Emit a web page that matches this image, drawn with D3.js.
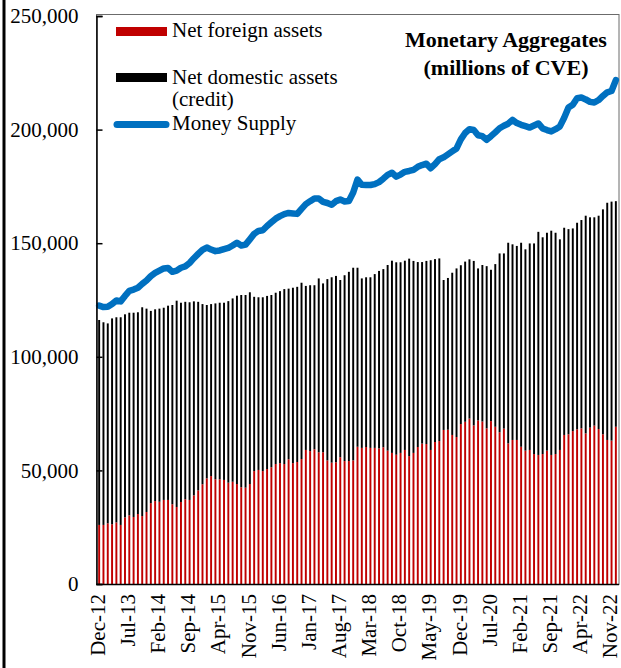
<!DOCTYPE html>
<meta charset="utf-8">
<style>
  body { margin: 0; background: #fff; }
  svg text { font-family: "Liberation Serif", "Times New Roman", Times, serif; fill: #000; }
</style>
<body>
<div id="chart"></div>
<script src="https://d3js.org/d3.v7.min.js"></script>
<script>
// monthly data, Dec-12 .. Dec-22 (millions of CVE)
var startMonth = new Date(2012, 11, 1);
var endMonth = new Date(2023, 0, 1);

var tickLabels = ["Dec-12", "Jul-13", "Feb-14", "Sep-14", "Apr-15", "Nov-15", "Jun-16", "Jan-17", "Aug-17",
  "Mar-18", "Oct-18", "May-19", "Dec-19", "Jul-20", "Feb-21", "Sep-21", "Apr-22", "Nov-22"];

var netForeign = [
  26000, 26000, 26700, 26300, 27100, 26000, 29300, 30200, 29500, 30800,
  29900, 31700, 35600, 36500, 36200, 37000, 37000, 35100, 33900, 36100,
  37300, 37000, 39000, 41200, 43900, 46500, 47500, 46100, 46100, 45800,
  44600, 45000, 44000, 42600, 42400, 44000, 49700, 50200, 49700, 50600,
  51400, 52800, 53200, 52800, 54900, 53200, 53700, 55000, 59000, 58500,
  59300, 58000, 58000, 54400, 53400, 53600, 55800, 54100, 54100, 54400,
  60400, 59900, 60300, 59900, 59900, 59700, 60200, 58700, 57700, 56900,
  57700, 59000, 56300, 57700, 60300, 61800, 61600, 59000, 62500, 62900,
  67800, 67900, 65600, 64700, 70400, 71400, 72800, 69800, 72000, 71500,
  68500, 71700, 69200, 66800, 68400, 61900, 63400, 63400, 60400, 58700,
  59000, 57200, 56800, 57200, 58700, 56800, 57200, 59000, 65600, 65900,
  67300, 68100, 68500, 66300, 68800, 69700, 68200, 65900, 63400, 63100,
  69200
];

var netDomestic = [
  90200, 89200, 88000, 90600, 90300, 91400, 89400, 89200, 89900, 88800,
  91900, 89500, 84600, 84400, 85000, 84600, 85500, 87700, 90800, 87700,
  86900, 87000, 85400, 83000, 79300, 76300, 75700, 77400, 77700, 78000,
  79900, 80700, 82900, 84600, 84800, 84400, 76700, 76000, 76500, 76200,
  75800, 75400, 75700, 77000, 75100, 77200, 77100, 77600, 72200, 73000,
  72200, 76500, 74300, 79800, 81600, 82000, 78000, 81800, 83300, 84800,
  78800, 74600, 74700, 75100, 76500, 78100, 78400, 81700, 84600, 84700,
  83900, 83300, 86900, 84500, 81400, 79900, 80600, 83500, 80500, 80400,
  66000, 66800, 71400, 74200, 69900, 70500, 70100, 72400, 66900, 68900,
  71400, 66600, 71600, 78700, 77100, 88300, 86100, 85400, 89800, 88600,
  90900, 92700, 98200, 95400, 95900, 98700, 97400, 92700, 91200, 90300,
  89200, 90900, 91700, 95800, 92600, 91700, 93900, 99000, 104400, 105200,
  99300
];

var moneySupply = [
  122500, 121900, 122000, 123200, 124800, 124400, 126800, 129000, 129600, 130400,
  132100, 133600, 135500, 136900, 137900, 138900, 139100, 137400, 137900, 139200,
  139800, 141300, 143400, 145300, 147100, 148100, 147200, 146500, 146800, 147400,
  147900, 149000, 150200, 149000, 149400, 151700, 154100, 155400, 155700, 157600,
  159200, 160800, 161900, 162800, 163300, 163100, 162900, 165100, 167200, 168500,
  169700, 169700, 168200, 167700, 166900, 168500, 169200, 168400, 168600, 172300,
  178000, 175700, 175600, 175600, 176000, 176900, 178400, 180100, 181000, 179300,
  180200, 181400, 181800, 182300, 183600, 184400, 185000, 183000, 184800, 187000,
  187800, 189100, 190400, 191700, 195700, 198500, 200200, 199800, 197500, 197100,
  195500, 197100, 198800, 200600, 201700, 202600, 204300, 202900, 202100, 201500,
  200900, 201800, 202700, 200500, 199800, 199200, 200200, 201400, 205200, 209700,
  210900, 213800, 214100, 213300, 212200, 211900, 213000, 214800, 216400, 217000,
  221800
];

var yTicks = [0, 50000, 100000, 150000, 200000, 250000];

var width = 621, height = 668;
var plotLeft = 97, plotRight = 618, plotTop = 16, plotBottom = 584;
var serif = "Liberation Serif, Times New Roman, Times, serif";

var months = d3.timeMonth.range(startMonth, endMonth);
var fmt = d3.timeFormat("%b-%y");
var rows = months.map(function(m, i) {
  return { label: fmt(m), nfa: netForeign[i], nda: netDomestic[i], m2: moneySupply[i] };
});

var svg = d3.select("#chart").append("svg")
  .attr("width", width)
  .attr("height", height)
  .attr("font-family", serif);

var x = d3.scaleBand()
  .domain(rows.map(function(d) { return d.label; }))
  .range([plotLeft, plotRight])
  .paddingInner(0.55)
  .paddingOuter(0.275);

var y = d3.scaleLinear().domain([0, 250000]).range([plotBottom, plotTop]);

// outer frame line on the left
svg.append("line")
  .attr("x1", 4).attr("x2", 4).attr("y1", 0).attr("y2", height)
  .attr("stroke", "#000").attr("stroke-width", 3);

// plot area border
svg.append("rect")
  .attr("x", plotLeft - 0.5).attr("y", plotTop - 1.5)
  .attr("width", plotRight - plotLeft + 1.5).attr("height", plotBottom - plotTop + 2)
  .attr("fill", "none").attr("stroke", "#6b6b6b").attr("stroke-width", 1);

// stacked bars
var stack = d3.stack().keys(["nfa", "nda"]);
var series = stack(rows);
var barColor = { nfa: "#c00000", nda: "#000000" };

svg.append("g").selectAll("g")
  .data(series)
  .join("g")
  .attr("fill", function(s) { return barColor[s.key]; })
  .selectAll("rect")
  .data(function(s) { return s; })
  .join("rect")
  .attr("x", function(d) { return x(d.data.label); })
  .attr("width", x.bandwidth())
  .attr("y", function(d) { return y(d[1]); })
  .attr("height", function(d) { return y(d[0]) - y(d[1]); });

// money supply line
var line = d3.line()
  .x(function(d) { return x(d.label) + x.bandwidth() / 2; })
  .y(function(d) { return y(d.m2); });

svg.append("path")
  .datum(rows)
  .attr("d", line)
  .attr("fill", "none")
  .attr("stroke", "#0070c0")
  .attr("stroke-width", 6.5)
  .attr("stroke-linejoin", "round")
  .attr("stroke-linecap", "round");

// y axis
var yAxis = svg.append("g")
  .attr("transform", "translate(" + (plotLeft - 0.5) + ",0)")
  .call(d3.axisLeft(y).tickValues(yTicks).tickFormat(d3.format(",")).tickSize(-6).tickPadding(18));
yAxis.attr("font-family", serif).attr("font-size", 21);
yAxis.select(".domain").attr("stroke", "#000").attr("stroke-width", 1.5);
yAxis.selectAll(".tick line").attr("stroke", "#000").attr("stroke-width", 1.5);

// x axis line
svg.append("line")
  .attr("x1", plotLeft - 0.5).attr("x2", plotRight + 1)
  .attr("y1", plotBottom + 0.5).attr("y2", plotBottom + 0.5)
  .attr("stroke", "#000").attr("stroke-width", 1.5);

// x tick labels (every 7 months)
svg.append("g").selectAll("text")
  .data(tickLabels)
  .join("text")
  .attr("transform", function(d) {
    return "translate(" + (x(d) + x.bandwidth() / 2) + "," + (plotBottom + 10) + ") rotate(-90)";
  })
  .attr("text-anchor", "end")
  .attr("dy", "0.27em")
  .attr("font-size", 21)
  .text(function(d) { return d; });

// legend
var legend = svg.append("g");
legend.append("rect").attr("x", 116).attr("y", 27).attr("width", 51).attr("height", 9).attr("fill", "#c00000");
legend.append("rect").attr("x", 116).attr("y", 73).attr("width", 51).attr("height", 9).attr("fill", "#000");
legend.append("line").attr("x1", 117).attr("x2", 166).attr("y1", 124.5).attr("y2", 124.5)
  .attr("stroke", "#0070c0").attr("stroke-width", 7).attr("stroke-linecap", "round");

var legendText = [
  { t: "Net foreign assets", y: 37 },
  { t: "Net domestic assets", y: 84 },
  { t: "(credit)", y: 106 },
  { t: "Money Supply", y: 130 }
];
legend.selectAll("text")
  .data(legendText)
  .join("text")
  .attr("x", 172)
  .attr("y", function(d) { return d.y; })
  .attr("font-size", 21)
  .text(function(d) { return d.t; });

// title
svg.append("text")
  .attr("x", 506).attr("y", 47)
  .attr("text-anchor", "middle")
  .attr("font-size", 22).attr("font-weight", "bold")
  .text("Monetary Aggregates");
svg.append("text")
  .attr("x", 506).attr("y", 75)
  .attr("text-anchor", "middle")
  .attr("font-size", 22).attr("font-weight", "bold")
  .text("(millions of CVE)");
</script>
</body>
